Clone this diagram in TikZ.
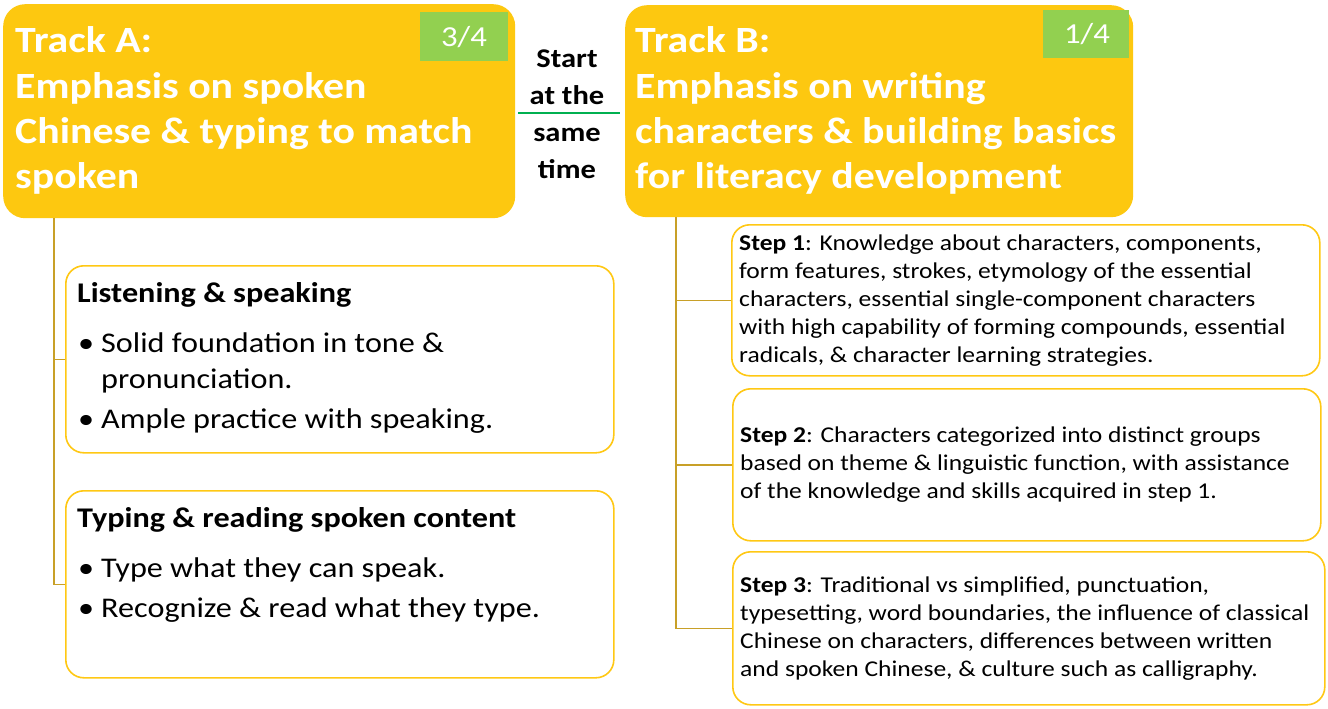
\documentclass[tikz,border=0pt]{standalone}
\usepackage{fontspec}
\setmainfont{Carlito}[FakeStretch=1.13]
\definecolor{trackfill}{RGB}{253,200,16}
\definecolor{badgegreen}{RGB}{146,208,80}
\definecolor{boxline}{RGB}{255,200,20}
\definecolor{connline}{RGB}{200,160,40}
\definecolor{startline}{RGB}{0,176,80}
\begin{document}
\begin{tikzpicture}[x=1pt,y=-1pt,
  track/.style={fill=trackfill, draw=none, rounded corners=22pt, anchor=north west, inner sep=0pt},
  badgebox/.style={fill=badgegreen, draw=none, anchor=north west, inner sep=0pt},
  itembox/.style={draw=boxline, line width=1.6pt, rounded corners=18pt, fill=white, anchor=north west, inner sep=0pt},
  connector/.style={draw=connline, line width=1.4pt},
  tracktxt/.style={anchor=base west, inner sep=0pt, text=white, font=\fontsize{37}{45}\selectfont\bfseries},
  badgetxt/.style={anchor=base, inner sep=0pt, text=white, font=\fontsize{29}{36}\selectfont},
  starttxt/.style={anchor=base, inner sep=0pt, font=\fontsize{27}{33}\selectfont\bfseries},
  headtxt/.style={anchor=base west, inner sep=0pt, font=\fontsize{28.5}{34}\selectfont\bfseries},
  itemtxt/.style={anchor=base west, inner sep=0pt, font=\fontsize{28.5}{34}\selectfont},
  steptxt/.style={anchor=base west, inner sep=0pt, font=\fontsize{22.6}{27}\selectfont}
]
\useasboundingbox (0,0) rectangle (1328,709);
\fill[white] (0,0) rectangle (1328,709);

% Track boxes
\node[track, minimum width=512pt, minimum height=214pt] (trackA) at (3,4) {};
\node[track, minimum width=508pt, minimum height=212pt] (trackB) at (625,5) {};
\node[badgebox, minimum width=88pt, minimum height=49pt] (badgeA) at (420,12) {};
\node[badgebox, minimum width=86pt, minimum height=48pt] (badgeB) at (1043,10) {};
\node[badgetxt] (badgeAtxt) at (464,47) {3/4};
\node[badgetxt] (badgeBtxt) at (1087,44) {1/4};

% Track A title
\node[tracktxt] (tA1) at (15,53) {Track A:};
\node[tracktxt] (tA2) at (15,98) {Emphasis on spoken};
\node[tracktxt] (tA3) at (15,143) {Chinese \& typing to match};
\node[tracktxt] (tA4) at (15,188) {spoken};

% Track B title
\node[tracktxt] (tB1) at (635,53) {Track B:};
\node[tracktxt] (tB2) at (635,98) {Emphasis on writing};
\node[tracktxt] (tB3) at (635,143) {characters \& building basics};
\node[tracktxt] (tB4) at (635,188) {for literacy development};

% Start at the same time
\node[starttxt] (s1) at (567,67) {Start};
\node[starttxt] (s2) at (567,104) {at the};
\node[starttxt] (s3) at (567,141) {same};
\node[starttxt] (s4) at (567,178) {time};
\coordinate (gl) at (518,113);
\coordinate (gr) at (620,113);
\draw[startline, line width=2.5pt] (gl) -- (gr);

% Track A items
\node[itembox, minimum width=548pt, minimum height=187pt] (boxA1) at (65,265) {};
\node[itembox, minimum width=548pt, minimum height=187pt] (boxA2) at (65,490) {};

\node[headtxt] (a1h) at (77,302) {Listening \& speaking};
\node[itemtxt] (a1b1) at (78,352) {•};
\node[itemtxt] (a1t1) at (101,352) {Solid foundation in tone \&};
\node[itemtxt] (a1t1b) at (101,388) {pronunciation.};
\node[itemtxt] (a1b2) at (78,428) {•};
\node[itemtxt] (a1t2) at (101,428) {Ample practice with speaking.};

\node[headtxt] (a2h) at (77,527) {Typing \& reading spoken content};
\node[itemtxt] (a2b1) at (78,577) {•};
\node[itemtxt] (a2t1) at (101,577) {Type what they can speak.};
\node[itemtxt] (a2b2) at (78,617) {•};
\node[itemtxt] (a2t2) at (101,617) {Recognize \& read what they type.};

% Track B steps
\node[itembox, minimum width=588pt, minimum height=151pt] (step1) at (731,224) {};
\node[itembox, minimum width=588pt, minimum height=152pt] (step2) at (732,388) {};
\node[itembox, minimum width=592pt, minimum height=153pt] (step3) at (732,551) {};

\node[steptxt] (s1l1) at (739,250) {\textbf{Step 1}: Knowledge about characters, components,};
\node[steptxt] (s1l2) at (739,278) {form features, strokes, etymology of the essential};
\node[steptxt] (s1l3) at (739,306) {characters, essential single-component characters};
\node[steptxt] (s1l4) at (739,334) {with high capability of forming compounds, essential};
\node[steptxt] (s1l5) at (739,362) {radicals, \& character learning strategies.};

\node[steptxt] (s2l1) at (740,442) {\textbf{Step 2}: Characters categorized into distinct groups};
\node[steptxt] (s2l2) at (740,470) {based on theme \& linguistic function, with assistance};
\node[steptxt] (s2l3) at (740,498) {of the knowledge and skills acquired in step 1.};

\node[steptxt] (s3l1) at (740,592) {\textbf{Step 3}: Traditional vs simplified, punctuation,};
\node[steptxt] (s3l2) at (740,620) {typesetting, word boundaries, the influence of classical};
\node[steptxt] (s3l3) at (740,648) {Chinese on characters, differences between written};
\node[steptxt] (s3l4) at (740,676) {and spoken Chinese, \& culture such as calligraphy.};

% Connectors
\coordinate (aX) at (54,0);
\coordinate (bX) at (676,0);
\draw[connector] (aX |- trackA.south) |- (boxA2.west);
\draw[connector] (aX |- boxA1.west) -- (boxA1.west);
\draw[connector] (bX |- trackB.south) |- (step3.west);
\draw[connector] (bX |- step1.west) -- (step1.west);
\draw[connector] (bX |- step2.west) -- (step2.west);
\end{tikzpicture}
\end{document}
